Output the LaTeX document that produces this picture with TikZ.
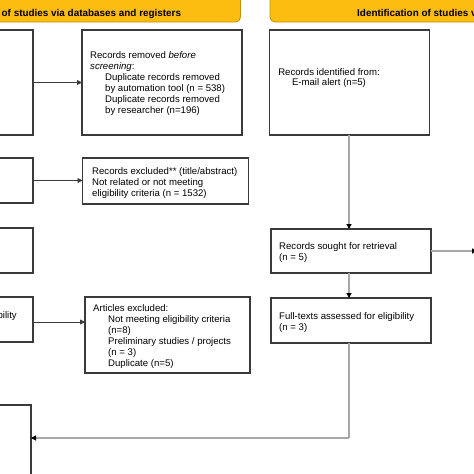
\documentclass[tikz,border=0pt]{standalone}
\usepackage{fontspec}
\setmainfont{Liberation Sans}
\usetikzlibrary{arrows.meta}
\definecolor{bannerfill}{HTML}{FDBD10}
\definecolor{bannerline}{HTML}{C99206}
\definecolor{boxline}{HTML}{3A3A3A}
\definecolor{connline}{HTML}{A8A8A8}
\tikzset{
  box/.style={draw=boxline, line width=1.2pt, fill=white, inner sep=0pt, outer sep=0pt},
  txt/.style={font=\fontsize{9.6}{11}\selectfont, align=left, anchor=base west, inner sep=0pt},
  ctxt/.style={font=\fontsize{9.6}{10.5}\selectfont, align=center, anchor=base, inner sep=0pt},
  bannerbox/.style={draw=bannerline, fill=bannerfill, rounded corners=5pt, line width=0.9pt, inner sep=0pt, outer sep=0pt},
  bannertxt/.style={font=\bfseries\fontsize{9.9}{11}\selectfont, inner sep=0pt},
  darkarrow/.style={draw=boxline, line width=0.8pt, -{Triangle[length=5pt,width=5pt]}},
  grayarrow/.style={draw=connline, line width=1.1pt, -{Triangle[length=5pt,width=5pt,color=black]}},
  grayline/.style={draw=connline, line width=1.1pt}
}
\begin{document}
\begin{tikzpicture}[x=1pt,y=-1pt]
\useasboundingbox (0,0) rectangle (474,474);
\clip (0,0) rectangle (474,474);
\fill[white] (0,0) rectangle (474,474);
% banners
\node[bannerbox, minimum width=340, minimum height=30] (bleft) at (70.5,7) {};
\node[bannertxt, anchor=base west] (bleftt) at (1.5,16.2) {\llap{Identification }of studies via databases and registers};
\node[bannerbox, minimum width=240, minimum height=30] (bright) at (390,7) {};
\node[bannertxt, anchor=base west] (brightt) at (357,16.2) {Identification of studies via other methods};
% left column boxes (cut off)
\node[box, minimum width=60, minimum height=105] (b1) at (3,82.5) {};
\node[box, minimum width=60, minimum height=45] (b2) at (3,180.5) {};
\node[box, minimum width=60, minimum height=45] (b3) at (3,250.5) {};
\node[box, minimum width=60, minimum height=45] (b4) at (3,319.5) {};
\node[txt, anchor=base east] (b4t) at (17,318.5) {Reports assessed for eligibility};
\node[box, minimum width=60, minimum height=80] (b5) at (1,445) {};
% middle boxes
\node[box, minimum width=160, minimum height=105] (rem) at (162,82.5) {};
\node[txt] (remt) at (90,113) {Records removed \textit{before}\\\textit{screening}:\\\hspace*{15pt}Duplicate records removed\\\hspace*{15pt}by automation tool (n = 538)\\\hspace*{15pt}Duplicate records removed\\\hspace*{15pt}by researcher (n=196)};
\node[box, minimum width=166, minimum height=46] (exc) at (165.5,181) {};
\node[txt] (exct) at (92,196) {Records excluded** (title/abstract)\\Not related or not meeting\\eligibility criteria (n = 1532)};
\node[box, minimum width=165, minimum height=76] (art) at (167.5,335) {};
\node[txt] (artt) at (93,366) {Articles excluded:\\\hspace*{15pt}Not meeting eligibility criteria\\\hspace*{15pt}(n=8)\\\hspace*{15pt}Preliminary studies / projects\\\hspace*{15pt}(n = 3)\\\hspace*{15pt}Duplicate (n=5)};
% right column boxes
\node[box, minimum width=160, minimum height=105] (idf) at (349.5,82.5) {};
\node[ctxt] (idft) at (329,85.5) {Records identified from:\\E-mail alert (n=5)};
\node[box, minimum width=160, minimum height=44] (sgt) at (351,251) {};
\node[txt] (sgtt) at (279,260.5) {Records sought for retrieval\\(n = 5)};
\node[box, minimum width=160, minimum height=45] (ful) at (351,320.5) {};
\node[txt] (fult) at (279,330) {Full-texts assessed for eligibility\\(n = 3)};
% connectors
\coordinate (offright) at (477,251);
\coordinate (bend) at (349,438);
\draw[darkarrow] (b1.east |- rem.west) -- (rem.west);
\draw[darkarrow] (b2.east) -- (b2.east -| exc.west);
\draw[darkarrow] (b4.east |- 0,322) -- (art.west |- 0,322);
\draw[grayarrow] (idf.south -| 349,0) -- (sgt.north -| 349,0);
\draw[grayarrow] (sgt.south -| 349,0) -- (ful.north -| 349,0);
\draw[grayarrow] (sgt.east) -- (offright);
\draw[grayline] (ful.south -| 349,0) -- (bend);
\draw[grayarrow] (bend) -- (bend -| b5.east);
\end{tikzpicture}
\end{document}
